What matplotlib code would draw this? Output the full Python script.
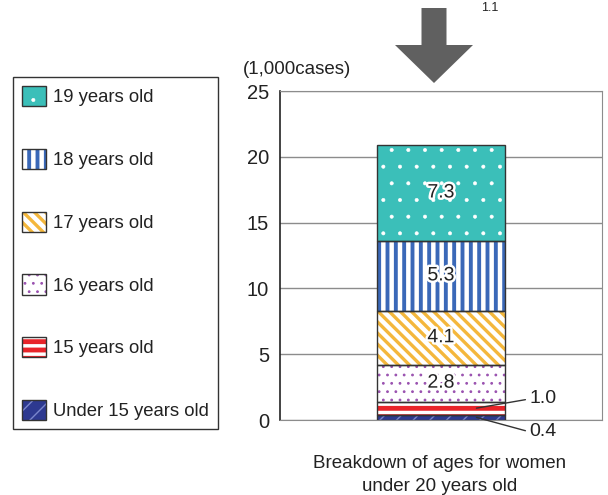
import matplotlib
matplotlib.use('Agg')
import matplotlib.pyplot as plt
import matplotlib.patheffects as pe
from matplotlib.patches import FancyArrow
from matplotlib.legend_handler import HandlerTuple

plt.rcParams['font.family'] = ['Liberation Sans', 'DejaVu Sans']

# data (1,000 cases), bottom to top
ages = ['Under 15 years old', '15 years old', '16 years old',
        '17 years old', '18 years old', '19 years old']
cases = [0.4, 1.0, 2.8, 4.1, 5.3, 7.3]
yticks = [0, 5, 10, 15, 20, 25]

# styles
face = ['#2d3990', '#e8242a', 'white', 'white', 'white', '#3bbfb9']
hatch_col = ['#7a86cc', 'white', '#9a52b0', '#f4b73c', '#3a68b8', 'white']
hatches = ['//', '--', '..', '\\\\\\', '||', '.']
hatch_lw = [1.0, 2.5, 0.8, 2.4, 2.8, 0.4]

fig = plt.figure(figsize=(6.08, 4.95), dpi=100)
ax = fig.add_axes([280 / 608, 1 - 420 / 495, 322 / 608, 329 / 495])

bottom = 0
bottoms = []
handles = []
for i in range(len(cases)):
    with plt.rc_context({'hatch.linewidth': hatch_lw[i]}):
        fill = ax.bar(0, cases[i], width=0.8, bottom=bottom, color=face[i],
                      edgecolor=hatch_col[i], hatch=hatches[i], linewidth=0, zorder=2)
    if hasattr(fill[0], 'set_hatch_linewidth'):
        fill[0].set_hatch_linewidth(hatch_lw[i])
    edge = ax.bar(0, cases[i], width=0.8, bottom=bottom, facecolor='none',
                  edgecolor='#333333', linewidth=1, zorder=3)
    handles.append((fill[0], edge[0]))
    bottoms.append(bottom)
    bottom += cases[i]

# value labels
stroke = [pe.withStroke(linewidth=3.5, foreground='white')]
for i in range(2, len(cases)):
    ax.text(0, bottoms[i] + cases[i] / 2, f'{cases[i]:.1f}', ha='center', va='center',
            fontsize=14, color='#222222', path_effects=stroke, zorder=4)

for i, dy in [(1, 0.7), (0, -1.1)]:
    mid = bottoms[i] + cases[i] / 2
    ax.annotate(f'{cases[i]:.1f}', xy=(0.22, mid), xytext=(0.55, mid + dy),
                ha='left', va='center', fontsize=14, color='#222222',
                annotation_clip=False, zorder=5,
                arrowprops=dict(arrowstyle='-', color='#333333', lw=1,
                                shrinkA=1, shrinkB=0, relpos=(0, 0.5)))

ax.set_xlim(-1, 1)
ax.set_ylim(0, 25)
ax.set_yticks(yticks)
ax.set_xticks([])
ax.tick_params(axis='y', length=0, pad=8, labelsize=14.5, labelcolor='#222222')
ax.yaxis.grid(True, color='#8c8c8c', linewidth=1)
ax.set_axisbelow(True)
for s in ['top', 'right', 'bottom']:
    ax.spines[s].set_color('#8c8c8c')
ax.spines['left'].set_color('#222222')
ax.spines['left'].set_linewidth(1.2)

ax.text(-37 / 322, 1.066, '(1,000cases)', transform=ax.transAxes, ha='left',
        va='center', fontsize=13.5, color='#222222')
ax.set_xlabel('Breakdown of ages for women\nunder 20 years old', fontsize=13.5,
              labelpad=25, linespacing=1.45, color='#222222')
ax.xaxis.label.set_x((440 - 280) / 322)

# legend
leg = fig.legend(handles[::-1], ages[::-1], handler_map={tuple: HandlerTuple(ndivide=1)},
                 loc='upper left', bbox_to_anchor=(13 / 608, 1 - 77 / 495),
                 borderaxespad=0, fontsize=13.3, handlelength=1.3, handleheight=1.3,
                 labelspacing=2.3, borderpad=0.5, handletextpad=0.35,
                 fancybox=False, edgecolor='#333333', framealpha=1)
leg.get_frame().set_linewidth(1)
for t in leg.get_texts():
    t.set_color('#222222')
for h, lw in zip(leg.legend_handles, hatch_lw[::-1]):
    if hasattr(h, 'set_hatch_linewidth'):
        h.set_hatch_linewidth(lw)

# big down arrow on top
arrow = FancyArrow(434 / 608, 1 - 8 / 495, 0, -75 / 495, width=25 / 608,
                   head_width=78 / 608, head_length=38 / 495,
                   length_includes_head=True, transform=fig.transFigure,
                   color='#606060', linewidth=0)
fig.patches.append(arrow)
fig.text(481 / 608, 1 - 8 / 495, '1.1', fontsize=9, ha='left', va='center', color='#222222')

fig.savefig('out.png', dpi=100)
